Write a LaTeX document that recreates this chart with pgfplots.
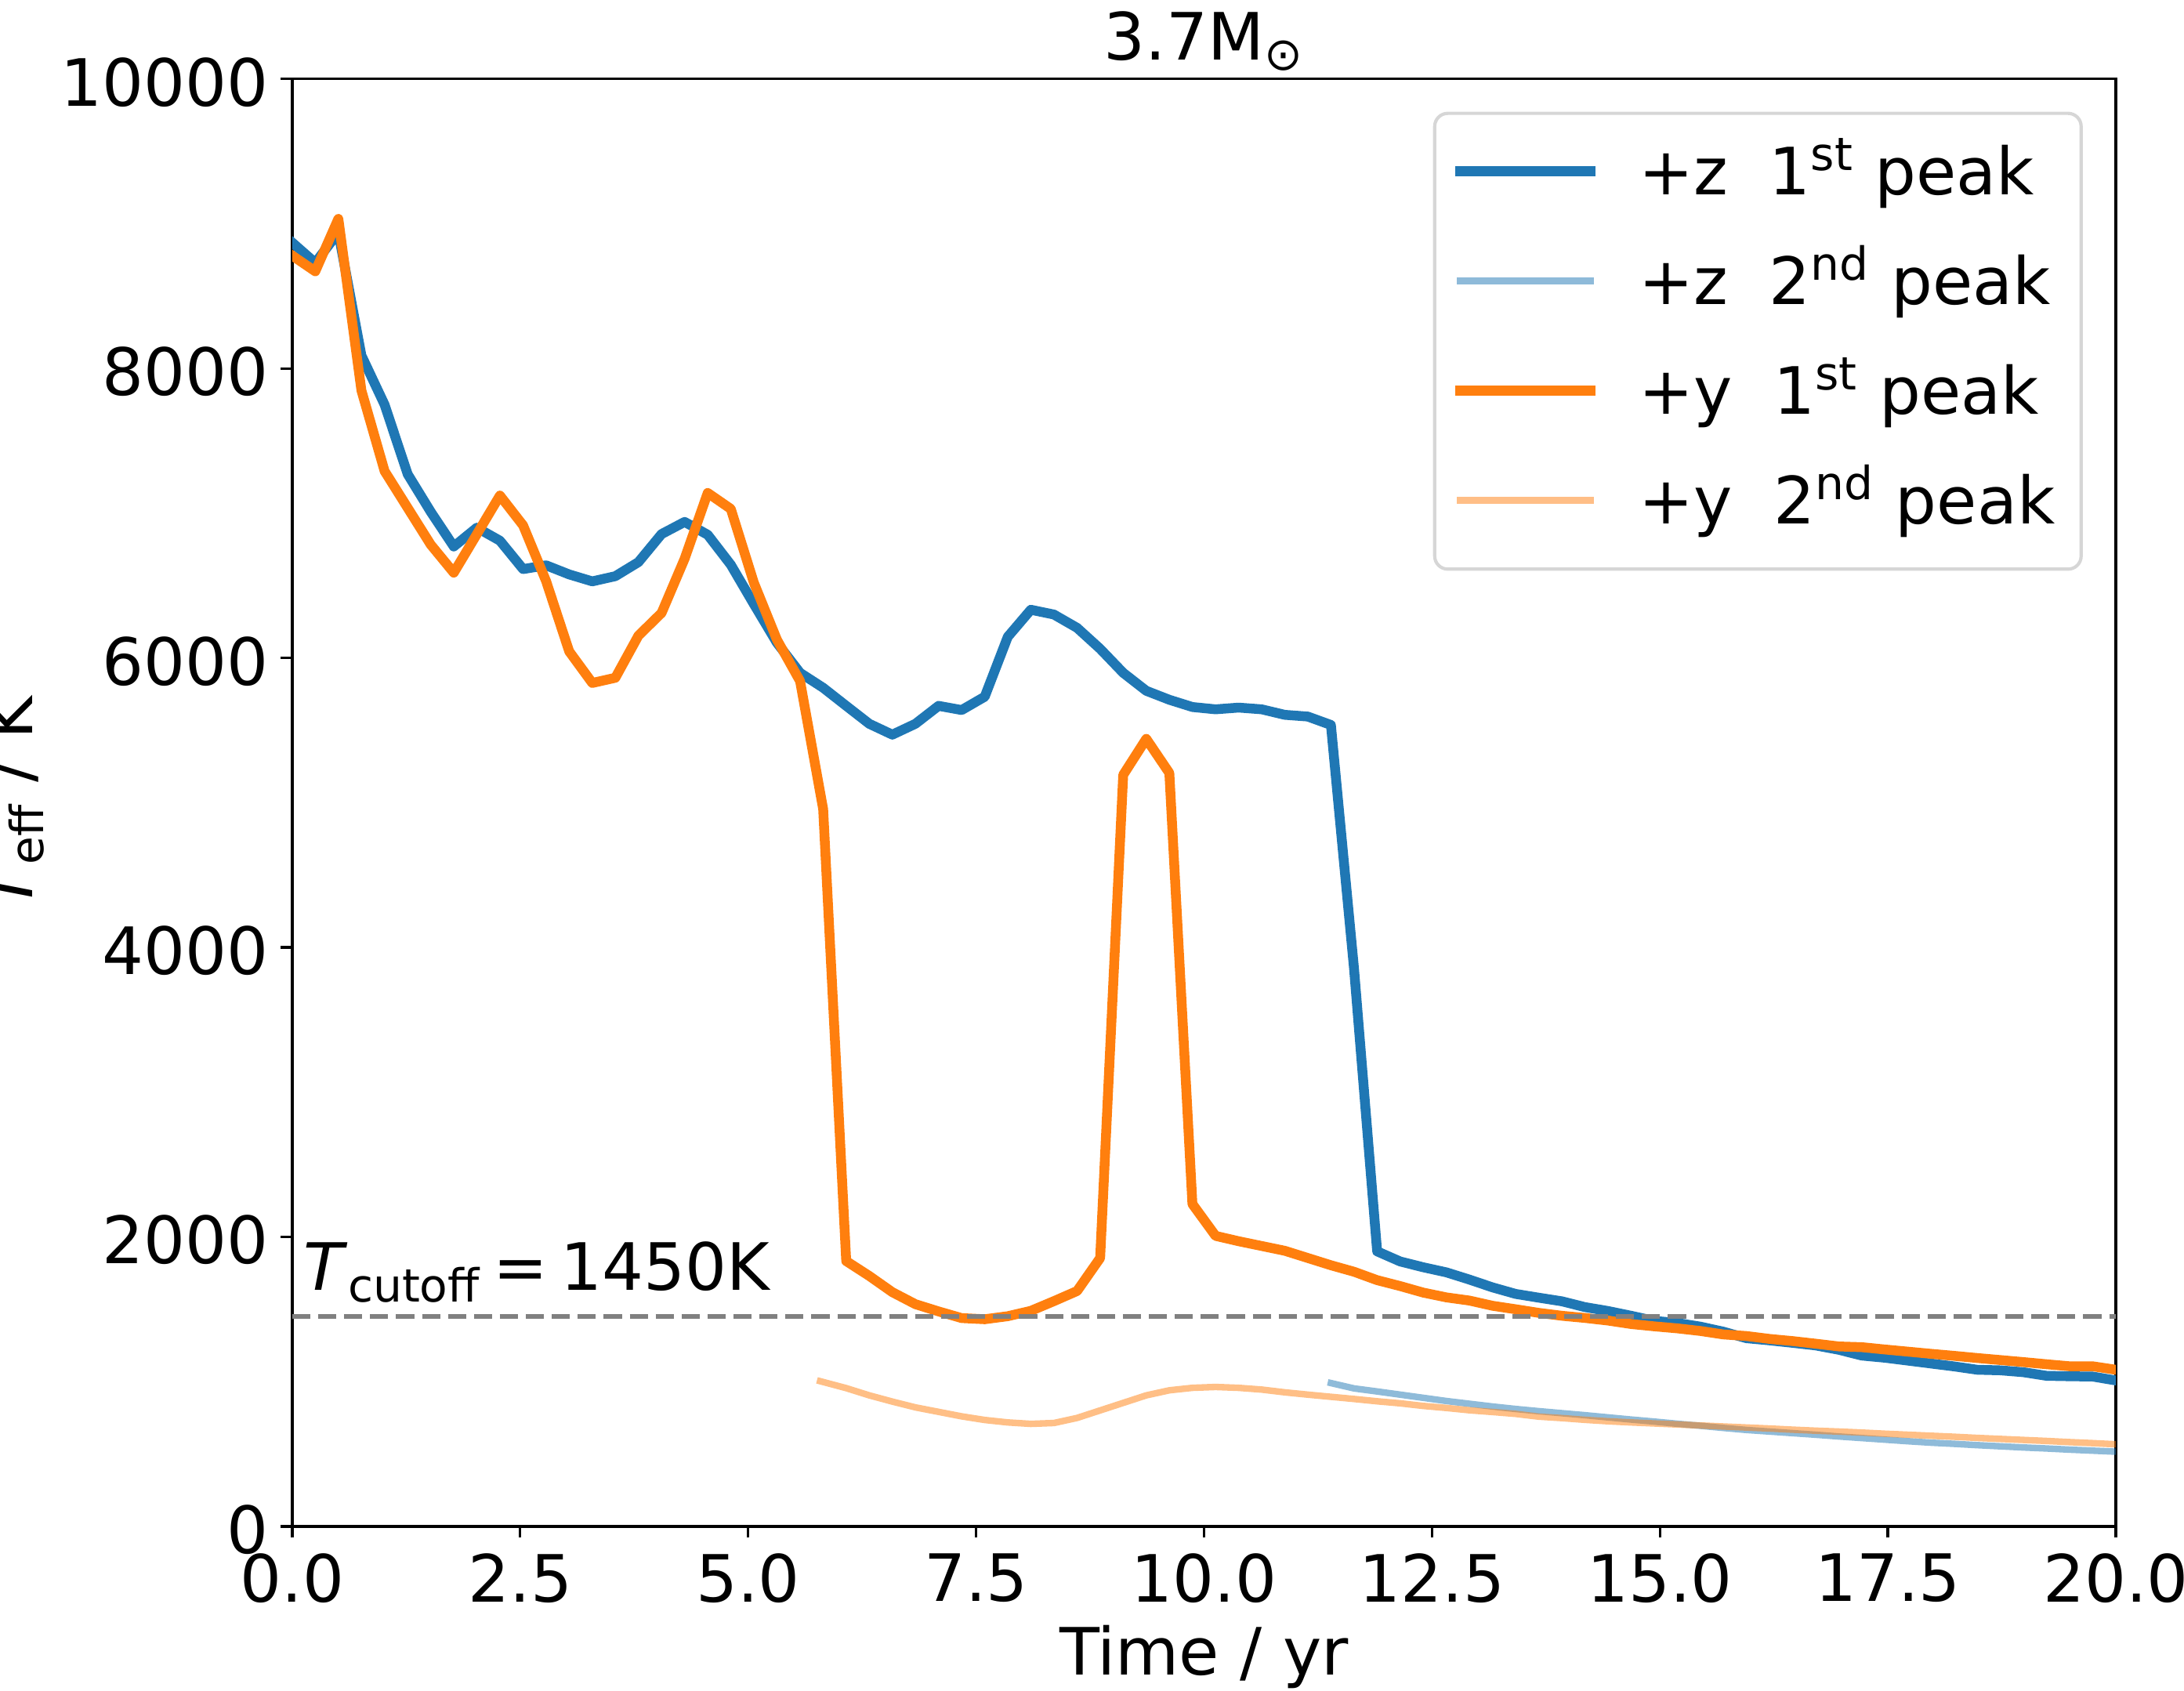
\documentclass[border=0pt]{standalone}
\usepackage{fontspec}
\setmainfont{DejaVu Sans}
\usepackage{pgfplots}
\pgfplotsset{compat=1.18}

\definecolor{zcol}{HTML}{1F77B4}
\definecolor{ycol}{HTML}{FF7F0E}
\definecolor{cutgray}{HTML}{808080}
\definecolor{legframe}{HTML}{D6D6D6}

\begin{document}
\fontsize{20}{24}\selectfont
\begin{tikzpicture}
\path[use as bounding box] (-89.5pt,-50.2pt) rectangle (579.4pt,467.5pt);
\begin{axis}[
  scale only axis, width=558.5pt, height=443.3pt,
  at={(0pt,0pt)}, anchor=south west,
  xmin=0, xmax=20, ymin=0, ymax=10000,
  xtick={0,2.5,5,7.5,10,12.5,15,17.5,20},
  xticklabels={0.0,2.5,5.0,7.5,10.0,12.5,15.0,17.5,20.0},
  ytick={0,2000,4000,6000,8000,10000},
  yticklabels={0,2000,4000,6000,8000,10000},
  scaled ticks=false,
  tick pos=left, tick align=outside,
  major tick length=3.5pt,
  every tick/.style={black, line width=0.8pt},
  axis line style={line width=0.8pt},
  xticklabel style={anchor=north, inner sep=0pt, yshift=-4.7pt},
  yticklabel style={anchor=east, inner sep=0pt, xshift=-3.6pt, yshift=-1pt},
  every axis title shift=0pt,
  title={3.7M\textsubscript{⊙}},
  title style={at={(axis description cs:0.5,1.0131)}, anchor=base, inner sep=0pt},
  xlabel={Time / yr},
  xlabel style={at={(axis description cs:0.5,-0.1029)}, anchor=base, inner sep=0pt},
  ylabel={\textit{T}\textsubscript{eff} / K},
  ylabel style={at={(axis description cs:-0.1356,0.5)}, anchor=south, inner sep=0pt},
  legend cell align=left,
  legend style={at={(axis description cs:0.9819,0.9774)}, anchor=north east,
    draw=legframe, line width=1pt, rounded corners=4pt, fill=white,
    inner xsep=6.2pt, inner ysep=2.6pt, column sep=11.5pt, row sep=0pt,
    nodes={inner ysep=0pt, inner xsep=1.8pt, text height=22.4pt, text depth=11.2pt}},
  legend image code/.code={\draw[#1] (0pt,1.7pt) -- (40pt,1.7pt);},
]

% +z direction, first peak
\addplot[zcol, line width=3pt, line join=round, line cap=rect] coordinates {
(0.000,8870) (0.253,8730) (0.506,8940) (0.759,8090) (1.013,7750) (1.266,7270)
(1.519,7010) (1.772,6770) (2.025,6900) (2.278,6810) (2.532,6614) (2.785,6640)
(3.038,6577) (3.291,6529) (3.544,6565) (3.797,6662) (4.051,6856) (4.304,6940)
(4.557,6851) (4.810,6644) (5.063,6372) (5.316,6105) (5.570,5897) (5.823,5794)
(6.076,5669) (6.329,5545) (6.582,5470) (6.835,5545) (7.089,5669) (7.342,5640)
(7.595,5732) (7.848,6146) (8.101,6333) (8.354,6300) (8.608,6208) (8.861,6063)
(9.114,5897) (9.367,5773) (9.620,5711) (9.873,5661) (10.127,5645) (10.380,5657)
(10.633,5645) (10.886,5607) (11.139,5595) (11.392,5537) (11.646,3850) (11.899,1900)
(12.152,1830) (12.405,1790) (12.658,1755) (12.911,1705) (13.165,1651) (13.418,1606)
(13.671,1580) (13.924,1555) (14.177,1515) (14.430,1488) (14.684,1455) (14.937,1420)
(15.190,1405) (15.443,1380) (15.696,1345) (15.949,1300) (16.203,1285) (16.456,1268)
(16.709,1250) (16.962,1220) (17.215,1180) (17.468,1165) (17.722,1145) (17.975,1125)
(18.228,1105) (18.481,1082) (18.734,1078) (18.987,1065) (19.241,1040) (19.494,1037)
(19.747,1035) (20.000,1008)
};
\addlegendentry{+z\ \ 1\textsuperscript{st} peak}

% +z direction, second peak
\addplot[zcol, draw opacity=0.5, line width=2pt, line join=round, line cap=rect] coordinates {
(11.392,990) (11.646,953) (11.899,932) (12.152,910) (12.405,888) (12.658,866)
(12.911,847) (13.165,828) (13.418,811) (13.671,796) (13.924,782) (14.177,768)
(14.430,753) (14.684,738) (14.937,724) (15.190,709) (15.443,695) (15.696,680)
(15.949,666) (16.203,655) (16.456,644) (16.709,633) (16.962,621) (17.215,610)
(17.468,599) (17.722,588) (17.975,578) (18.228,570) (18.481,561) (18.734,553)
(18.987,545) (19.241,538) (19.494,530) (19.747,523) (20.000,516)
};
\addlegendentry{+z\ \ 2\textsuperscript{nd} peak}

% +y direction, first peak
\addplot[ycol, line width=3pt, line join=round, line cap=rect] coordinates {
(0.000,8780) (0.253,8671) (0.506,9034) (0.759,7848) (1.013,7291) (1.266,7037)
(1.519,6783) (1.772,6589) (2.025,6855) (2.278,7122) (2.532,6916) (2.785,6530)
(3.038,6045) (3.291,5827) (3.544,5863) (3.797,6154) (4.051,6311) (4.304,6686)
(4.557,7140) (4.810,7030) (5.063,6520) (5.316,6126) (5.570,5840) (5.823,4956)
(6.076,1833) (6.329,1730) (6.582,1618) (6.835,1535) (7.089,1485) (7.342,1439)
(7.595,1431) (7.848,1452) (8.101,1489) (8.354,1556) (8.608,1626) (8.861,1854)
(9.114,5192) (9.367,5441) (9.620,5205) (9.873,2227) (10.127,2007) (10.380,1970)
(10.633,1937) (10.886,1904) (11.139,1854) (11.392,1804) (11.646,1759) (11.899,1701)
(12.152,1660) (12.405,1615) (12.658,1582) (12.911,1560) (13.165,1524) (13.418,1500)
(13.671,1475) (13.924,1455) (14.177,1440) (14.430,1422) (14.684,1398) (14.937,1382)
(15.190,1368) (15.443,1350) (15.696,1326) (15.949,1315) (16.203,1295) (16.456,1280)
(16.709,1262) (16.962,1243) (17.215,1238) (17.468,1222) (17.722,1207) (17.975,1192)
(18.228,1178) (18.481,1163) (18.734,1149) (18.987,1135) (19.241,1120) (19.494,1106)
(19.747,1106) (20.000,1082)
};
\addlegendentry{+y\ \ 1\textsuperscript{st} peak}

% +y direction, second peak
\addplot[ycol, draw opacity=0.5, line width=2pt, line join=round, line cap=rect] coordinates {
(5.79,1003) (6.076,955) (6.329,905) (6.582,862) (6.835,822) (7.089,791)
(7.342,760) (7.595,735) (7.848,718) (8.101,708) (8.354,714) (8.608,749)
(8.861,801) (9.114,853) (9.367,905) (9.620,940) (9.873,957) (10.127,963)
(10.380,957) (10.633,945) (10.886,926) (11.139,910) (11.392,895) (11.646,880)
(11.899,864) (12.152,850) (12.405,832) (12.658,818) (12.911,802) (13.165,790)
(13.418,777) (13.671,758) (13.924,748) (14.177,736) (14.430,726) (14.684,718)
(14.937,711) (15.190,704) (15.443,697) (15.696,690) (15.949,683) (16.203,676)
(16.456,668) (16.709,661) (16.962,655) (17.215,648) (17.468,640) (17.722,633)
(17.975,626) (18.228,619) (18.481,611) (18.734,604) (18.987,597) (19.241,590)
(19.494,582) (19.747,575) (20.000,567)
};
\addlegendentry{+y\ \ 2\textsuperscript{nd} peak}

% cutoff temperature
\addplot[cutgray, line width=1.5pt, dash pattern=on 5.55pt off 2.4pt, forget plot]
  coordinates {(0,1450) (20,1450)};
\node[anchor=base west, inner sep=0pt] at (axis cs:0.12,1630)
  {\textit{T}\textsubscript{cutoff}\hspace{3.8pt}=\hspace{3.8pt}1450K};
\end{axis}
\end{tikzpicture}
\end{document}
